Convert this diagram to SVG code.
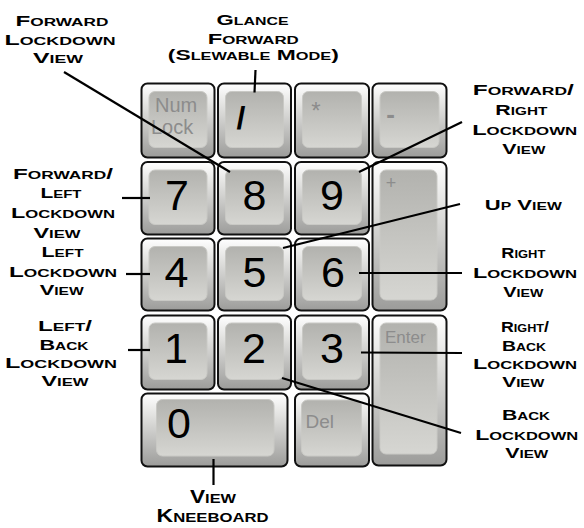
<svg xmlns="http://www.w3.org/2000/svg" width="584" height="528" viewBox="0 0 584 528">
<style>
.lbl{font-family:"Liberation Sans",Arial,sans-serif;font-size:14px;font-weight:bold;font-variant:small-caps;fill:#000;text-anchor:middle}
.big{font-size:18px}
.outer{fill:url(#gOuter);stroke:#111;stroke-width:2}
.inner{fill:url(#gInner);stroke:#c9c9c5;stroke-width:1}
.dig{font-family:"Liberation Sans",Arial,sans-serif;font-size:43px;fill:#000;text-anchor:middle}
.gray{font-family:"Liberation Sans",Arial,sans-serif;fill:#8c8c8c}
.con line{stroke:#000;stroke-width:2.2;fill:none}
</style>
<defs>
<linearGradient id="gOuter" x1="0" y1="0" x2="0" y2="1">
<stop offset="0" stop-color="#ffffff"/>
<stop offset="0.3" stop-color="#e2e2e0"/>
<stop offset="1" stop-color="#9c9c9a"/>
</linearGradient>
<linearGradient id="gInner" x1="0" y1="0" x2="0" y2="1">
<stop offset="0" stop-color="#b2b2ae"/>
<stop offset="1" stop-color="#d6d6d2"/>
</linearGradient>
</defs>
<rect width="584" height="528" fill="#fff"/>

<g id="key-numlock"><rect class="outer" x="141.5" y="83.5" width="73" height="74" rx="6"/><rect class="inner" x="149" y="91.5" width="58" height="56" rx="6"/><text class="gray" x="155" y="112" font-size="20">Num</text><text class="gray" x="151" y="133.5" font-size="20">Lock</text></g>
<g id="key-slash"><rect class="outer" x="218" y="83.5" width="73" height="74" rx="6"/><rect class="inner" x="225.5" y="91.5" width="58" height="56" rx="6"/><text x="241" y="129" font-family="Liberation Sans, Arial, sans-serif" font-size="32" font-weight="bold" text-anchor="middle">/</text></g>
<g id="key-star"><rect class="outer" x="295" y="83.5" width="74" height="74" rx="6"/><rect class="inner" x="302.5" y="91.5" width="59" height="56" rx="6"/><text class="gray" x="316" y="119" font-size="24" text-anchor="middle">*</text></g>
<g id="key-minus"><rect class="outer" x="372.5" y="83.5" width="74" height="74" rx="6"/><rect class="inner" x="380" y="91.5" width="59" height="56" rx="6"/><text class="gray" x="390.5" y="122.5" font-size="26" font-weight="bold" text-anchor="middle">-</text></g>

<g id="key-7"><rect class="outer" x="141.5" y="162" width="73" height="72.5" rx="6"/><rect class="inner" x="149" y="170" width="58" height="54.5" rx="6"/><text class="dig" x="177" y="210">7</text></g>
<g id="key-8"><rect class="outer" x="218" y="162" width="73" height="72.5" rx="6"/><rect class="inner" x="225.5" y="170" width="58" height="54.5" rx="6"/><text class="dig" x="254.5" y="210">8</text></g>
<g id="key-9"><rect class="outer" x="295" y="162" width="74" height="72.5" rx="6"/><rect class="inner" x="302.5" y="170" width="59" height="54.5" rx="6"/><text class="dig" x="332" y="210">9</text></g>
<g id="key-plus"><rect class="outer" x="372.5" y="162" width="74" height="148.5" rx="6"/><rect class="inner" x="380" y="170" width="57" height="130" rx="6"/><text class="gray" x="391" y="189" font-size="18" text-anchor="middle" fill="#9a9a9a">+</text></g>

<g id="key-4"><rect class="outer" x="141.5" y="238.5" width="73" height="72" rx="6"/><rect class="inner" x="149" y="246.5" width="58" height="54" rx="6"/><text class="dig" x="176.5" y="287">4</text></g>
<g id="key-5"><rect class="outer" x="218" y="238.5" width="73" height="72" rx="6"/><rect class="inner" x="225.5" y="246.5" width="58" height="54" rx="6"/><text class="dig" x="254.5" y="287">5</text></g>
<g id="key-6"><rect class="outer" x="295" y="238.5" width="74" height="72" rx="6"/><rect class="inner" x="302.5" y="246.5" width="59" height="54" rx="6"/><text class="dig" x="333" y="287">6</text></g>

<g id="key-1"><rect class="outer" x="141.5" y="315.5" width="73" height="74" rx="6"/><rect class="inner" x="149" y="323" width="58" height="56.5" rx="6"/><text class="dig" x="176" y="363">1</text></g>
<g id="key-2"><rect class="outer" x="218" y="315.5" width="73" height="74" rx="6"/><rect class="inner" x="225.5" y="323" width="58" height="56.5" rx="6"/><text class="dig" x="254" y="363">2</text></g>
<g id="key-3"><rect class="outer" x="295" y="315.5" width="74" height="74" rx="6"/><rect class="inner" x="302.5" y="323" width="59" height="56.5" rx="6"/><text class="dig" x="332" y="363">3</text></g>
<g id="key-enter"><rect class="outer" x="372.5" y="315.5" width="74" height="150" rx="6"/><rect class="inner" x="380" y="323" width="57" height="131" rx="6"/><text class="gray" x="385" y="342.5" font-size="17">Enter</text></g>

<g id="key-0"><rect class="outer" x="141.5" y="393.5" width="146" height="73" rx="6"/><rect class="inner" x="156.5" y="399.5" width="117.5" height="56.5" rx="6"/><text class="dig" x="179" y="438" font-size="40">0</text></g>
<g id="key-del"><rect class="outer" x="295" y="393.5" width="74" height="73" rx="6"/><rect class="inner" x="301.5" y="400" width="60" height="56" rx="6"/><text class="gray" x="305.5" y="428" font-size="19">Del</text></g>

<g id="connectors" class="con">
<line x1="64" y1="72" x2="230" y2="172"/>
<line x1="255.5" y1="70" x2="254.5" y2="92.5"/>
<line x1="462" y1="122" x2="359" y2="172"/>
<line x1="460" y1="204" x2="283" y2="248"/>
<line x1="122" y1="198" x2="150" y2="198"/>
<line x1="126" y1="274" x2="150" y2="274"/>
<line x1="128" y1="350" x2="150" y2="350"/>
<line x1="359" y1="273" x2="462" y2="273"/>
<line x1="361" y1="352.5" x2="462" y2="353"/>
<line x1="282" y1="378" x2="461" y2="433"/>
<line x1="213.5" y1="459" x2="213.5" y2="485"/>
</g>

<g id="label-forward-lockdown">
<text class="lbl" x="62" y="26" textLength="93" lengthAdjust="spacingAndGlyphs">Forward</text>
<text class="lbl" x="60" y="44.5" textLength="111" lengthAdjust="spacingAndGlyphs">Lockdown</text>
<text class="lbl" x="58" y="63" textLength="50" lengthAdjust="spacingAndGlyphs">View</text>
</g>
<g id="label-glance">
<text class="lbl" x="252.5" y="25" textLength="72" lengthAdjust="spacingAndGlyphs">Glance</text>
<text class="lbl" x="253.3" y="43.5" textLength="91" lengthAdjust="spacingAndGlyphs">Forward</text>
<text class="lbl" x="253.3" y="60" textLength="171" lengthAdjust="spacingAndGlyphs">(Slewable Mode)</text>
</g>
<g id="label-forward-right">
<text class="lbl" x="523.3" y="95" textLength="101" lengthAdjust="spacingAndGlyphs">Forward/</text>
<text class="lbl" x="521.3" y="115" textLength="52" lengthAdjust="spacingAndGlyphs">Right</text>
<text class="lbl" x="524.7" y="134.5" textLength="105" lengthAdjust="spacingAndGlyphs">Lockdown</text>
<text class="lbl" x="523.8" y="153.5" textLength="43" lengthAdjust="spacingAndGlyphs">View</text>
</g>
<g id="label-up">
<text class="lbl" x="523.3" y="210" textLength="77" lengthAdjust="spacingAndGlyphs">Up View</text>
</g>
<g id="label-forward-left">
<text class="lbl" x="63" y="178.5" textLength="100" lengthAdjust="spacingAndGlyphs">Forward/</text>
<text class="lbl" x="61" y="198" textLength="41" lengthAdjust="spacingAndGlyphs">Left</text>
<text class="lbl" x="63" y="218" textLength="104" lengthAdjust="spacingAndGlyphs">Lockdown</text>
<text class="lbl" x="57" y="237.5" textLength="47" lengthAdjust="spacingAndGlyphs">View</text>
</g>
<g id="label-left">
<text class="lbl" x="62.5" y="256.5" textLength="42" lengthAdjust="spacingAndGlyphs">Left</text>
<text class="lbl" x="63" y="276.5" textLength="108" lengthAdjust="spacingAndGlyphs">Lockdown</text>
<text class="lbl" x="61.7" y="295" textLength="44" lengthAdjust="spacingAndGlyphs">View</text>
</g>
<g id="label-left-back">
<text class="lbl" x="65" y="331" textLength="54" lengthAdjust="spacingAndGlyphs">Left/</text>
<text class="lbl" x="64" y="350" textLength="49" lengthAdjust="spacingAndGlyphs">Back</text>
<text class="lbl" x="61" y="367.5" textLength="112" lengthAdjust="spacingAndGlyphs">Lockdown</text>
<text class="lbl" x="65" y="386" textLength="47" lengthAdjust="spacingAndGlyphs">View</text>
</g>
<g id="label-right">
<text class="lbl" x="523.3" y="258" textLength="44" lengthAdjust="spacingAndGlyphs">Right</text>
<text class="lbl" x="525" y="278" textLength="104" lengthAdjust="spacingAndGlyphs">Lockdown</text>
<text class="lbl" x="523.3" y="297" textLength="40" lengthAdjust="spacingAndGlyphs">View</text>
</g>
<g id="label-right-back">
<text class="lbl" x="525" y="332" textLength="48" lengthAdjust="spacingAndGlyphs">Right/</text>
<text class="lbl" x="524" y="351" textLength="44" lengthAdjust="spacingAndGlyphs">Back</text>
<text class="lbl" x="525" y="368.5" textLength="104" lengthAdjust="spacingAndGlyphs">Lockdown</text>
<text class="lbl" x="523.3" y="387" textLength="42" lengthAdjust="spacingAndGlyphs">View</text>
</g>
<g id="label-back">
<text class="lbl" x="526" y="420" textLength="48" lengthAdjust="spacingAndGlyphs">Back</text>
<text class="lbl" x="526.7" y="440" textLength="103" lengthAdjust="spacingAndGlyphs">Lockdown</text>
<text class="lbl" x="526.7" y="458" textLength="43" lengthAdjust="spacingAndGlyphs">View</text>
</g>
<g id="label-kneeboard">
<text class="lbl big" x="213" y="503" textLength="46" lengthAdjust="spacingAndGlyphs">View</text>
<text class="lbl big" x="212.5" y="521.5" textLength="112" lengthAdjust="spacingAndGlyphs">Kneeboard</text>
</g>
</svg>
